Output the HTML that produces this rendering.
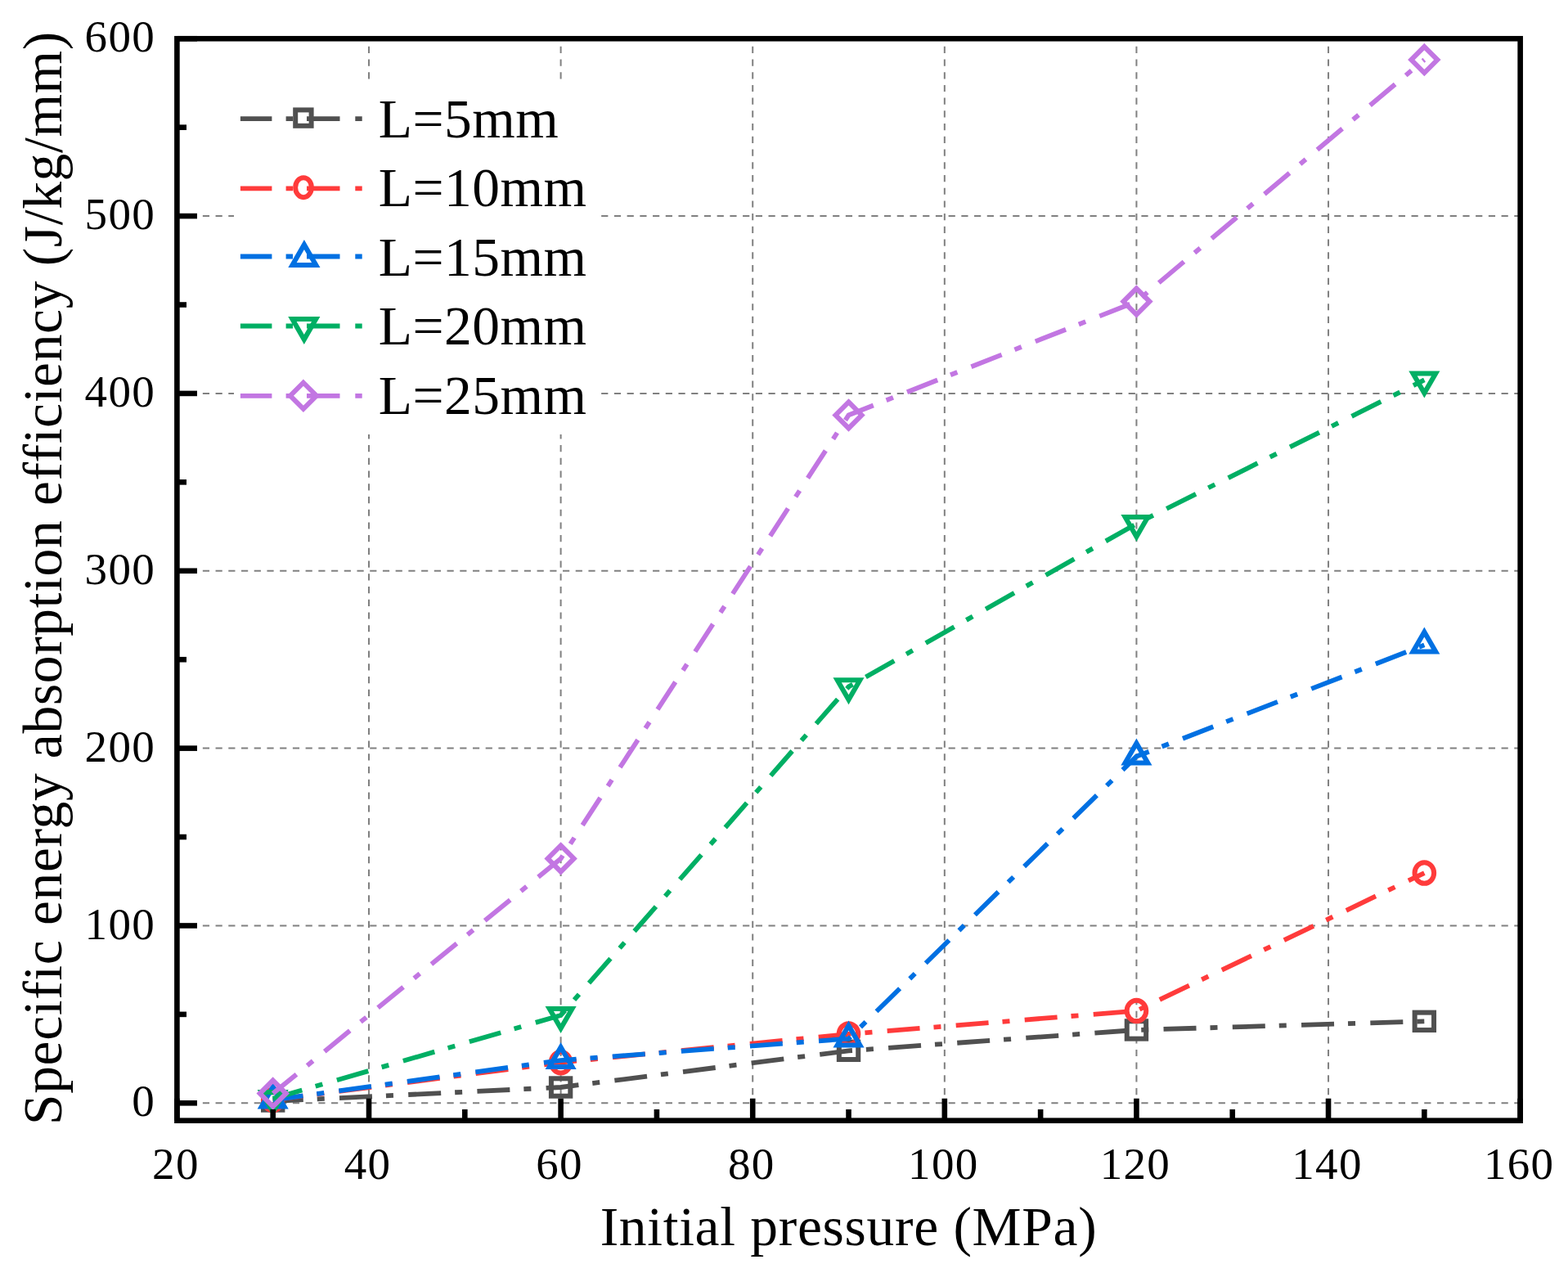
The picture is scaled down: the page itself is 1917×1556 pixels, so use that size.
<!DOCTYPE html>
<html><head><meta charset="utf-8"><title>Specific energy absorption efficiency chart</title>
<style>
html,body{margin:0;padding:0;background:#fff;}
body{width:1917px;height:1556px;overflow:hidden;}
svg{display:block;}
text{font-family:"Liberation Serif","Times New Roman",serif;fill:#000;font-variant-ligatures:none;font-feature-settings:"liga" 0,"clig" 0;}
</style></head><body>
<svg width="1917" height="1556" viewBox="0 0 1917 1556">
<rect x="0" y="0" width="1917" height="1556" fill="#fff"/>
<g stroke="#808080" stroke-width="2" stroke-dasharray="8.2 7.52" fill="none"><line x1="216.40" y1="1348.30" x2="1858.65" y2="1348.30"/><line x1="216.40" y1="1131.46" x2="1858.65" y2="1131.46"/><line x1="216.40" y1="914.62" x2="1858.65" y2="914.62"/><line x1="216.40" y1="697.77" x2="1858.65" y2="697.77"/><line x1="216.40" y1="480.93" x2="1858.65" y2="480.93"/><line x1="216.40" y1="264.09" x2="1858.65" y2="264.09"/><line x1="451.01" y1="1369.70" x2="451.01" y2="47.25"/><line x1="685.61" y1="1369.70" x2="685.61" y2="47.25"/><line x1="920.22" y1="1369.70" x2="920.22" y2="47.25"/><line x1="1154.83" y1="1369.70" x2="1154.83" y2="47.25"/><line x1="1389.44" y1="1369.70" x2="1389.44" y2="47.25"/><line x1="1624.04" y1="1369.70" x2="1624.04" y2="47.25"/></g>
<polyline points="333.70,1346.00 685.61,1329.00 1037.53,1284.33 1389.44,1258.96 1741.35,1248.34" fill="none" stroke="#505050" stroke-width="5.8" stroke-dasharray="40 17 9 18.3" stroke-dashoffset="2.9" stroke-linejoin="miter"/>
<rect x="322.00" y="1335.30" width="23.4" height="21.4" fill="none" stroke="#505050" stroke-width="6.0"/>
<rect x="673.91" y="1318.30" width="23.4" height="21.4" fill="none" stroke="#505050" stroke-width="6.0"/>
<rect x="1025.83" y="1273.63" width="23.4" height="21.4" fill="none" stroke="#505050" stroke-width="6.0"/>
<rect x="1377.74" y="1248.26" width="23.4" height="21.4" fill="none" stroke="#505050" stroke-width="6.0"/>
<rect x="1729.65" y="1237.64" width="23.4" height="21.4" fill="none" stroke="#505050" stroke-width="6.0"/>
<polyline points="333.70,1344.51 685.61,1298.64 1037.53,1263.95 1389.44,1235.54 1741.35,1067.06" fill="none" stroke="#FF3B3B" stroke-width="5.8" stroke-dasharray="40 17 9 18.3" stroke-dashoffset="2.9" stroke-linejoin="miter"/>
<ellipse cx="333.70" cy="1344.51" rx="11.8" ry="12.8" fill="none" stroke="#FF3B3B" stroke-width="6.0"/>
<ellipse cx="685.61" cy="1298.64" rx="11.8" ry="12.8" fill="none" stroke="#FF3B3B" stroke-width="6.0"/>
<ellipse cx="1037.53" cy="1263.95" rx="11.8" ry="12.8" fill="none" stroke="#FF3B3B" stroke-width="6.0"/>
<ellipse cx="1389.44" cy="1235.54" rx="11.8" ry="12.8" fill="none" stroke="#FF3B3B" stroke-width="6.0"/>
<ellipse cx="1741.35" cy="1067.06" rx="11.8" ry="12.8" fill="none" stroke="#FF3B3B" stroke-width="6.0"/>
<polyline points="333.70,1344.51 685.61,1296.04 1037.53,1269.59 1389.44,924.59 1741.35,788.41" fill="none" stroke="#0070E2" stroke-width="5.8" stroke-dasharray="40 17 9 18.3" stroke-dashoffset="2.9" stroke-linejoin="miter"/>
<polygon points="333.70,1328.51 319.85,1352.51 347.56,1352.51" fill="none" stroke="#0070E2" stroke-width="6.0" stroke-linejoin="miter"/>
<polygon points="685.61,1280.04 671.76,1304.04 699.47,1304.04" fill="none" stroke="#0070E2" stroke-width="6.0" stroke-linejoin="miter"/>
<polygon points="1037.53,1253.59 1023.67,1277.59 1051.38,1277.59" fill="none" stroke="#0070E2" stroke-width="6.0" stroke-linejoin="miter"/>
<polygon points="1389.44,908.59 1375.58,932.59 1403.29,932.59" fill="none" stroke="#0070E2" stroke-width="6.0" stroke-linejoin="miter"/>
<polygon points="1741.35,772.41 1727.49,796.41 1755.20,796.41" fill="none" stroke="#0070E2" stroke-width="6.0" stroke-linejoin="miter"/>
<polyline points="333.70,1342.88 685.61,1240.96 1037.53,839.37 1389.44,640.10 1741.35,464.45" fill="none" stroke="#00AF64" stroke-width="5.8" stroke-dasharray="40 17 9 18.3" stroke-dashoffset="2.9" stroke-linejoin="miter"/>
<polygon points="333.70,1358.88 319.85,1334.88 347.56,1334.88" fill="none" stroke="#00AF64" stroke-width="6.0" stroke-linejoin="miter"/>
<polygon points="685.61,1256.96 671.76,1232.96 699.47,1232.96" fill="none" stroke="#00AF64" stroke-width="6.0" stroke-linejoin="miter"/>
<polygon points="1037.53,855.37 1023.67,831.37 1051.38,831.37" fill="none" stroke="#00AF64" stroke-width="6.0" stroke-linejoin="miter"/>
<polygon points="1389.44,656.10 1375.58,632.10 1403.29,632.10" fill="none" stroke="#00AF64" stroke-width="6.0" stroke-linejoin="miter"/>
<polygon points="1741.35,480.45 1727.49,456.45 1755.20,456.45" fill="none" stroke="#00AF64" stroke-width="6.0" stroke-linejoin="miter"/>
<polyline points="333.70,1336.59 685.61,1049.49 1037.53,507.39 1389.44,368.61 1741.35,73.05" fill="none" stroke="#C276E2" stroke-width="5.8" stroke-dasharray="40 17 9 18.3" stroke-dashoffset="2.9" stroke-linejoin="miter"/>
<polygon points="333.70,1320.59 349.70,1336.59 333.70,1352.59 317.70,1336.59" fill="none" stroke="#C276E2" stroke-width="6.0" stroke-linejoin="miter"/>
<polygon points="685.61,1033.49 701.61,1049.49 685.61,1065.49 669.61,1049.49" fill="none" stroke="#C276E2" stroke-width="6.0" stroke-linejoin="miter"/>
<polygon points="1037.53,491.39 1053.53,507.39 1037.53,523.39 1021.53,507.39" fill="none" stroke="#C276E2" stroke-width="6.0" stroke-linejoin="miter"/>
<polygon points="1389.44,352.61 1405.44,368.61 1389.44,384.61 1373.44,368.61" fill="none" stroke="#C276E2" stroke-width="6.0" stroke-linejoin="miter"/>
<polygon points="1741.35,57.05 1757.35,73.05 1741.35,89.05 1725.35,73.05" fill="none" stroke="#C276E2" stroke-width="6.0" stroke-linejoin="miter"/>
<rect x="286" y="98" width="448" height="433" fill="#fff"/>
<path d="M293.9 145.10H332.4 M349.6 145.10H358.0 M375.0 145.10H415.5 M434.3 145.10H442.7" stroke="#505050" stroke-width="5.8" fill="none"/>
<rect x="361.20" y="134.40" width="19.4" height="19.4" fill="none" stroke="#505050" stroke-width="6.0"/>
<text x="462.7" y="167.5" font-size="67.5" letter-spacing="0.5">L=5mm</text>
<path d="M293.9 230.40H332.4 M349.6 230.40H358.0 M375.0 230.40H415.5 M434.3 230.40H442.7" stroke="#FF3B3B" stroke-width="5.8" fill="none"/>
<ellipse cx="371" cy="229.20" rx="9.85" ry="12" fill="none" stroke="#FF3B3B" stroke-width="6.0"/>
<text x="462.7" y="252.0" font-size="67.5" letter-spacing="0.5">L=10mm</text>
<path d="M293.9 313.50H332.4 M349.6 313.50H358.0 M375.0 313.50H415.5 M434.3 313.50H442.7" stroke="#0070E2" stroke-width="5.8" fill="none"/>
<polygon points="371.90,299.10 357.52,324.00 386.28,324.00" fill="none" stroke="#0070E2" stroke-width="6.0"/>
<text x="462.7" y="336.5" font-size="67.5" letter-spacing="0.5">L=15mm</text>
<path d="M293.9 398.50H332.4 M349.6 398.50H358.0 M375.0 398.50H415.5 M434.3 398.50H442.7" stroke="#00AF64" stroke-width="5.8" fill="none"/>
<polygon points="371.80,414.90 357.42,390.00 386.18,390.00" fill="none" stroke="#00AF64" stroke-width="6.0"/>
<text x="462.7" y="421.0" font-size="67.5" letter-spacing="0.5">L=20mm</text>
<path d="M293.9 483.80H332.4 M349.6 483.80H358.0 M375.0 483.80H415.5 M434.3 483.80H442.7" stroke="#C276E2" stroke-width="5.8" fill="none"/>
<polygon points="370.90,467.75 386.90,483.75 370.90,499.75 354.90,483.75" fill="none" stroke="#C276E2" stroke-width="6.0"/>
<text x="462.7" y="505.5" font-size="67.5" letter-spacing="0.5">L=25mm</text>
<g stroke="#000" stroke-width="6.6" fill="none"><line x1="216.40" y1="1348.30" x2="241" y2="1348.30"/><line x1="216.40" y1="1131.46" x2="241" y2="1131.46"/><line x1="216.40" y1="914.62" x2="241" y2="914.62"/><line x1="216.40" y1="697.77" x2="241" y2="697.77"/><line x1="216.40" y1="480.93" x2="241" y2="480.93"/><line x1="216.40" y1="264.09" x2="241" y2="264.09"/><line x1="216.40" y1="47.25" x2="241" y2="47.25"/><line x1="216.40" y1="1239.88" x2="228" y2="1239.88"/><line x1="216.40" y1="1023.04" x2="228" y2="1023.04"/><line x1="216.40" y1="806.20" x2="228" y2="806.20"/><line x1="216.40" y1="589.35" x2="228" y2="589.35"/><line x1="216.40" y1="372.51" x2="228" y2="372.51"/><line x1="216.40" y1="155.67" x2="228" y2="155.67"/><line x1="216.40" y1="1369.70" x2="216.40" y2="1342.7"/><line x1="451.01" y1="1369.70" x2="451.01" y2="1342.7"/><line x1="685.61" y1="1369.70" x2="685.61" y2="1342.7"/><line x1="920.22" y1="1369.70" x2="920.22" y2="1342.7"/><line x1="1154.83" y1="1369.70" x2="1154.83" y2="1342.7"/><line x1="1389.44" y1="1369.70" x2="1389.44" y2="1342.7"/><line x1="1624.04" y1="1369.70" x2="1624.04" y2="1342.7"/><line x1="1858.65" y1="1369.70" x2="1858.65" y2="1342.7"/><line x1="333.70" y1="1369.70" x2="333.70" y2="1356"/><line x1="568.31" y1="1369.70" x2="568.31" y2="1356"/><line x1="802.92" y1="1369.70" x2="802.92" y2="1356"/><line x1="1037.53" y1="1369.70" x2="1037.53" y2="1356"/><line x1="1272.13" y1="1369.70" x2="1272.13" y2="1356"/><line x1="1506.74" y1="1369.70" x2="1506.74" y2="1356"/><line x1="1741.35" y1="1369.70" x2="1741.35" y2="1356"/></g>
<rect x="216.40" y="47.25" width="1642.25" height="1322.45" fill="none" stroke="#000" stroke-width="6.6"/>
<text x="190" y="1364.3" font-size="55" letter-spacing="1.3" text-anchor="end">0</text>
<text x="190" y="1147.5" font-size="55" letter-spacing="1.3" text-anchor="end">100</text>
<text x="190" y="930.6" font-size="55" letter-spacing="1.3" text-anchor="end">200</text>
<text x="190" y="713.8" font-size="55" letter-spacing="1.3" text-anchor="end">300</text>
<text x="190" y="496.9" font-size="55" letter-spacing="1.3" text-anchor="end">400</text>
<text x="190" y="280.1" font-size="55" letter-spacing="1.3" text-anchor="end">500</text>
<text x="190" y="63.2" font-size="55" letter-spacing="1.3" text-anchor="end">600</text>
<text x="214.9" y="1441" font-size="55" letter-spacing="1.3" text-anchor="middle">20</text>
<text x="449.5" y="1441" font-size="55" letter-spacing="1.3" text-anchor="middle">40</text>
<text x="684.1" y="1441" font-size="55" letter-spacing="1.3" text-anchor="middle">60</text>
<text x="918.7" y="1441" font-size="55" letter-spacing="1.3" text-anchor="middle">80</text>
<text x="1153.3" y="1441" font-size="55" letter-spacing="1.3" text-anchor="middle">100</text>
<text x="1387.9" y="1441" font-size="55" letter-spacing="1.3" text-anchor="middle">120</text>
<text x="1622.5" y="1441" font-size="55" letter-spacing="1.3" text-anchor="middle">140</text>
<text x="1857.2" y="1441" font-size="55" letter-spacing="1.3" text-anchor="middle">160</text>
<text x="1037.5" y="1521.8" font-size="67.5" letter-spacing="0.7" text-anchor="middle">Initial pressure (MPa)</text>
<text transform="translate(75.2 706.6) rotate(-90)" x="0" y="0" font-size="67.5" letter-spacing="0.66" text-anchor="middle">Specific energy absorption efficiency (J/kg/mm)</text>
</svg>
</body></html>
